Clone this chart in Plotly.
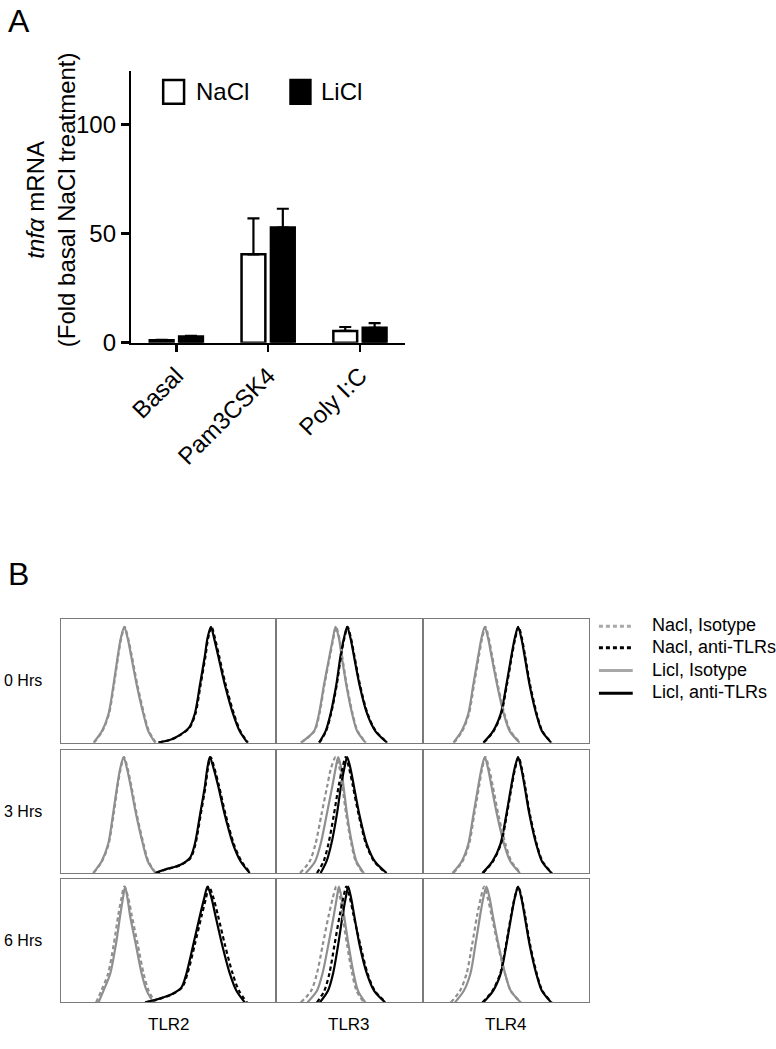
import plotly.graph_objects as go

# ---------------- Panel A data ----------------
CATEGORIES = ["Basal", "Pam3CSK4", "Poly I:C"]
NACL_MEAN = [1.1, 40.5, 5.4]
NACL_ERR = [0.2, 16.5, 1.8]
LICL_MEAN = [2.8, 52.8, 6.8]
LICL_ERR = [0.3, 8.6, 2.2]
Y_TICKS = [0, 50, 100]

# ---------------- Panel B data (histograms, % of max vs. relative fluorescence) ----------------
ROW_LABELS = ["0 Hrs", "3 Hrs", "6 Hrs"]
COL_LABELS = ["TLR2", "TLR3", "TLR4"]
SERIES_NAMES = ["Nacl, Isotype", "Nacl, anti-TLRs", "Licl, Isotype", "Licl, anti-TLRs"]

# heights (% of mode) at which curve positions were read
HIST_LEVELS = [0, 10, 25, 50, 75, 90, 100, 90, 75, 50, 25, 10, 0]
TLR2_ANTI_LEVELS = [0, 3, 7, 13, 25, 50, 75, 90, 100, 90, 75, 50, 25, 10, 0]

# TLR2
tlr2_0h_licl_iso = [15.0, 18.9, 22.0, 24.3, 26.3, 27.7, 29.3, 30.9, 32.5, 35.1, 38.2, 40.5, 43.7]
tlr2_0h_nacl_iso = [15.2, 19.1, 22.2, 24.5, 26.5, 27.9, 29.5, 31.1, 32.8, 35.4, 38.5, 40.8, 44.0]
tlr2_0h_licl_anti = [45.2, 51.4, 55.5, 59.5, 62.2, 64.6, 66.9, 68.1, 69.7, 71.2, 73.1, 76.2, 80.0, 83.1, 86.7]
tlr2_0h_nacl_anti = [45.4, 51.6, 55.7, 59.8, 62.5, 64.9, 67.2, 68.4, 70.0, 71.6, 73.5, 76.6, 80.4, 83.4, 87.0]

tlr2_3h_licl_iso = [14.8, 18.7, 21.8, 24.0, 26.0, 27.4, 29.0, 30.6, 32.3, 34.9, 38.0, 40.3, 43.8]
tlr2_3h_nacl_iso = [15.0, 18.9, 22.0, 24.3, 26.2, 27.6, 29.2, 30.9, 32.6, 35.2, 38.3, 40.6, 44.0]
tlr2_3h_licl_anti = [43.7, 48.3, 55.3, 59.9, 62.2, 64.6, 66.9, 68.0, 69.2, 71.0, 73.1, 76.2, 80.0, 83.6, 87.8]
tlr2_3h_nacl_anti = [44.0, 48.6, 55.6, 60.2, 62.5, 64.9, 67.2, 68.3, 69.6, 71.4, 73.5, 76.6, 80.4, 84.0, 88.1]

tlr2_6h_licl_iso = [17.3, 19.6, 22.8, 25.4, 27.4, 28.7, 29.7, 30.8, 32.0, 34.7, 37.4, 39.8, 42.9]
tlr2_6h_nacl_iso = [16.2, 18.6, 21.8, 24.4, 26.5, 28.0, 29.3, 31.2, 32.8, 35.6, 38.3, 40.7, 43.8]
tlr2_6h_licl_anti = [39.0, 45.2, 51.4, 56.0, 58.3, 61.5, 64.6, 66.6, 68.1, 70.0, 71.8, 74.9, 78.5, 81.6, 85.5]
tlr2_6h_nacl_anti = [39.5, 45.6, 51.6, 56.3, 58.8, 62.2, 65.4, 67.4, 68.8, 70.9, 73.0, 76.2, 79.8, 82.8, 86.5]

# TLR3
tlr3_0h_licl_iso = [17.0, 26.0, 29.4, 32.8, 36.6, 38.9, 40.7, 43.0, 44.8, 48.0, 52.0, 55.4, 61.1]
tlr3_0h_nacl_iso = [17.3, 26.3, 29.7, 33.1, 36.9, 39.2, 41.0, 43.3, 45.1, 48.3, 52.3, 55.7, 61.4]
tlr3_0h_licl_anti = [29.4, 33.9, 37.3, 41.2, 44.1, 46.4, 48.6, 50.9, 53.2, 57.0, 62.2, 67.8, 75.8]
tlr3_0h_nacl_anti = [29.7, 34.2, 37.6, 41.5, 44.4, 46.7, 48.9, 51.2, 53.5, 57.3, 62.5, 68.1, 76.1]

tlr3_3h_licl_iso = [20.4, 26.7, 30.5, 34.6, 38.5, 40.7, 42.5, 44.6, 46.1, 48.6, 52.0, 55.0, 60.0]
tlr3_3h_nacl_iso = [16.5, 23.0, 27.0, 31.0, 35.0, 37.5, 40.7, 43.5, 45.3, 48.0, 51.5, 54.5, 59.5]
tlr3_3h_licl_anti = [30.5, 34.5, 37.8, 41.5, 44.4, 46.6, 48.6, 50.9, 53.2, 57.0, 62.0, 67.5, 75.5]
tlr3_3h_nacl_anti = [28.0, 32.5, 35.8, 39.5, 42.8, 45.3, 47.6, 50.0, 52.5, 56.5, 61.5, 67.0, 75.0]

tlr3_6h_licl_iso = [21.5, 28.0, 31.8, 35.8, 39.5, 41.5, 43.0, 44.8, 46.5, 49.5, 53.0, 56.0, 61.0]
tlr3_6h_nacl_iso = [17.0, 24.0, 28.0, 32.0, 36.0, 38.8, 41.2, 43.8, 45.5, 48.5, 52.0, 55.0, 60.0]
tlr3_6h_licl_anti = [30.0, 35.5, 39.0, 42.5, 45.5, 47.6, 49.3, 51.3, 53.4, 57.0, 62.0, 67.0, 74.5]
tlr3_6h_nacl_anti = [28.0, 33.0, 36.5, 40.0, 43.5, 46.0, 48.0, 50.5, 53.0, 57.5, 62.5, 67.5, 75.0]

# TLR4
tlr4_0h_licl_iso = [18.5, 23.5, 27.5, 30.5, 33.5, 35.4, 37.4, 39.4, 41.4, 44.8, 48.8, 52.4, 58.3]
tlr4_0h_nacl_iso = [18.9, 23.9, 27.9, 30.9, 33.9, 35.8, 37.8, 39.8, 41.8, 45.2, 49.2, 52.8, 58.7]
tlr4_0h_licl_anti = [36.5, 42.4, 47.0, 50.4, 53.4, 55.4, 57.4, 59.4, 61.3, 64.3, 68.3, 71.7, 77.3]
tlr4_0h_nacl_anti = [36.8, 42.7, 47.3, 50.7, 53.7, 55.7, 57.7, 59.7, 61.6, 64.6, 68.6, 72.0, 77.6]

tlr4_3h_licl_iso = [18.0, 23.5, 27.5, 30.5, 33.5, 35.4, 37.4, 39.4, 41.4, 44.8, 49.0, 52.8, 58.5]
tlr4_3h_nacl_iso = [18.5, 24.0, 28.0, 31.0, 34.0, 35.8, 37.8, 40.0, 42.2, 45.6, 49.8, 53.4, 59.0]
tlr4_3h_licl_anti = [36.0, 42.0, 46.8, 50.3, 53.3, 55.3, 57.4, 59.4, 61.3, 64.3, 68.3, 71.8, 77.5]
tlr4_3h_nacl_anti = [36.3, 42.3, 47.1, 50.6, 53.6, 55.6, 57.7, 59.7, 61.6, 64.6, 68.6, 72.1, 77.8]

tlr4_6h_licl_iso = [19.5, 24.8, 28.8, 31.8, 34.6, 36.5, 38.4, 40.3, 42.2, 45.6, 49.6, 53.0, 59.0]
tlr4_6h_nacl_iso = [17.0, 22.5, 26.5, 29.8, 32.8, 35.0, 37.0, 39.2, 41.5, 45.2, 49.5, 53.0, 59.0]
tlr4_6h_licl_anti = [36.5, 42.4, 47.0, 50.4, 53.4, 55.4, 57.4, 59.4, 61.3, 64.3, 68.3, 71.7, 77.3]
tlr4_6h_nacl_anti = [36.0, 42.0, 46.7, 50.2, 53.2, 55.3, 57.5, 59.6, 61.6, 64.6, 68.6, 72.0, 77.6]

# grid[row][col] = (nacl_iso, nacl_anti, licl_iso, licl_anti)
GRID = [
    [(tlr2_0h_nacl_iso, tlr2_0h_nacl_anti, tlr2_0h_licl_iso, tlr2_0h_licl_anti),
     (tlr3_0h_nacl_iso, tlr3_0h_nacl_anti, tlr3_0h_licl_iso, tlr3_0h_licl_anti),
     (tlr4_0h_nacl_iso, tlr4_0h_nacl_anti, tlr4_0h_licl_iso, tlr4_0h_licl_anti)],
    [(tlr2_3h_nacl_iso, tlr2_3h_nacl_anti, tlr2_3h_licl_iso, tlr2_3h_licl_anti),
     (tlr3_3h_nacl_iso, tlr3_3h_nacl_anti, tlr3_3h_licl_iso, tlr3_3h_licl_anti),
     (tlr4_3h_nacl_iso, tlr4_3h_nacl_anti, tlr4_3h_licl_iso, tlr4_3h_licl_anti)],
    [(tlr2_6h_nacl_iso, tlr2_6h_nacl_anti, tlr2_6h_licl_iso, tlr2_6h_licl_anti),
     (tlr3_6h_nacl_iso, tlr3_6h_nacl_anti, tlr3_6h_licl_iso, tlr3_6h_licl_anti),
     (tlr4_6h_nacl_iso, tlr4_6h_nacl_anti, tlr4_6h_licl_iso, tlr4_6h_licl_anti)],
]

# ---------------- Layout geometry ----------------
W, H = 776, 1049
FONT = "Liberation Sans, Arial, Helvetica, sans-serif"
GRAY = "#8f8f8f"
BORDER = "#7a7a7a"


def fx(p):
    return p / W


def fy(p):
    return 1 - p / H


COL_PX = [(57.7, 273.3), (273.3, 420.7), (420.7, 588.0)]
ROW_PX = [(627, 752), (759, 884), (890, 1015)]

fig = go.Figure()

# ---------------- Panel A ----------------
fig.add_trace(go.Bar(
    x=CATEGORIES, y=NACL_MEAN, name="NaCl",
    marker=dict(color="white", line=dict(color="black", width=2.5)),
    error_y=dict(type="data", array=NACL_ERR, arrayminus=[0] * len(NACL_ERR),
                 symmetric=False, color="black", thickness=2.2, width=6),
    xaxis="x", yaxis="y", showlegend=False,
))
fig.add_trace(go.Bar(
    x=CATEGORIES, y=LICL_MEAN, name="LiCl",
    marker=dict(color="black", line=dict(color="black", width=2.5)),
    error_y=dict(type="data", array=LICL_ERR, arrayminus=[0] * len(LICL_ERR),
                 symmetric=False, color="black", thickness=2.2, width=6),
    xaxis="x", yaxis="y", showlegend=False,
))

layout = dict(
    width=W, height=H, margin=dict(l=0, r=0, t=0, b=0),
    paper_bgcolor="white", plot_bgcolor="white",
    font=dict(family=FONT, color="black"),
    barmode="group", bargap=0.36, bargroupgap=0.19,
    showlegend=False,
    xaxis=dict(domain=[fx(128), fx(403)], anchor="y", range=[-0.49, 2.49],
               showline=True, linecolor="black", linewidth=2.5,
               ticks="outside", ticklen=7, tickwidth=2.5, tickcolor="black",
               tickangle=-45, tickfont=dict(size=24, family=FONT),
               showgrid=False, zeroline=False, fixedrange=True),
    yaxis=dict(domain=[fy(347), fy(72)], anchor="x", range=[0, 124.5],
               tickvals=Y_TICKS, showline=True, linecolor="black", linewidth=2.5,
               ticks="outside", ticklen=8, tickwidth=2.5, tickcolor="black",
               tickfont=dict(size=24, family=FONT),
               showgrid=False, zeroline=False, fixedrange=True),
)

# ---------------- Panel B ----------------
styles = [
    dict(color=GRAY, dash="4px,3px"),   # Nacl, Isotype
    dict(color="black", dash="4px,3px"),  # Nacl, anti-TLRs
    dict(color=GRAY, dash="solid"),     # Licl, Isotype
    dict(color="black", dash="solid"),  # Licl, anti-TLRs
]
draw_order = [2, 3, 0, 1]

for r in range(3):
    for c in range(3):
        k = 2 + r * 3 + c
        xa, ya = f"x{k}", f"y{k}"
        curves = GRID[r][c]
        for i in draw_order:
            xs = curves[i]
            levels = TLR2_ANTI_LEVELS if len(xs) == len(TLR2_ANTI_LEVELS) else HIST_LEVELS
            fig.add_trace(go.Scatter(
                x=xs, y=levels, mode="lines", name=SERIES_NAMES[i],
                line=dict(color=styles[i]["color"], dash=styles[i]["dash"],
                          width=2.2, shape="spline", smoothing=0.8),
                xaxis=xa, yaxis=ya, showlegend=False, hoverinfo="skip",
            ))
        layout[f"xaxis{k}"] = dict(
            domain=[fx(COL_PX[c][0]), fx(COL_PX[c][1])], anchor=ya, range=[0, 100],
            showline=True, mirror=True, linecolor=BORDER, linewidth=1,
            showticklabels=False, ticks="", showgrid=False, zeroline=False, fixedrange=True)
        layout[f"yaxis{k}"] = dict(
            domain=[fy(ROW_PX[r][1]), fy(ROW_PX[r][0])], anchor=xa, range=[0, 106.5],
            showline=True, mirror=True, linecolor=BORDER, linewidth=1,
            showticklabels=False, ticks="", showgrid=False, zeroline=False, fixedrange=True)

fig.update_layout(**layout)

annotations = []
shapes = []

# Panel letters
annotations.append(dict(text="A", x=fx(2), y=fy(1), xref="paper", yref="paper",
                        xanchor="left", yanchor="top", showarrow=False,
                        font=dict(size=32, family=FONT)))
annotations.append(dict(text="B", x=fx(2), y=fy(561), xref="paper", yref="paper",
                        xanchor="left", yanchor="top", showarrow=False,
                        font=dict(size=32, family=FONT)))

# Panel A y title
annotations.append(dict(text="<i>tnfα</i> mRNA<br>(Fold basal NaCl treatment)",
                        x=fx(48), y=fy(202), xref="paper", yref="paper",
                        xanchor="center", yanchor="middle", textangle=-90,
                        showarrow=False, font=dict(size=24, family=FONT)))

# Panel A legend
shapes.append(dict(type="rect", xref="paper", yref="paper",
                   x0=fx(160), x1=fx(181), y0=fy(105), y1=fy(81),
                   fillcolor="white", line=dict(color="black", width=2.5)))
shapes.append(dict(type="rect", xref="paper", yref="paper",
                   x0=fx(288), x1=fx(308), y0=fy(105), y1=fy(81),
                   fillcolor="black", line=dict(color="black", width=2.5)))
annotations.append(dict(text="NaCl", x=fx(191), y=fy(93), xref="paper", yref="paper",
                        xanchor="left", yanchor="middle", showarrow=False,
                        font=dict(size=24, family=FONT)))
annotations.append(dict(text="LiCl", x=fx(317), y=fy(93), xref="paper", yref="paper",
                        xanchor="left", yanchor="middle", showarrow=False,
                        font=dict(size=24, family=FONT)))

# Panel B row labels
for r, lab in enumerate(ROW_LABELS):
    yc = (ROW_PX[r][0] + ROW_PX[r][1]) / 2
    annotations.append(dict(text=lab, x=fx(-2), y=fy(yc), xref="paper", yref="paper",
                            xanchor="left", yanchor="middle", showarrow=False,
                            font=dict(size=16, family=FONT)))
# Panel B column labels
for c, lab in enumerate(COL_LABELS):
    xc = (COL_PX[c][0] + COL_PX[c][1]) / 2
    annotations.append(dict(text=lab, x=fx(xc), y=fy(1037), xref="paper", yref="paper",
                            xanchor="center", yanchor="middle", showarrow=False,
                            font=dict(size=17, family=FONT)))

# Panel B legend
leg_y = [634, 656, 679, 702]
leg_colors = ["#a8a8a8", "black", "#a8a8a8", "black"]
leg_dash = ["4px,3px", "4px,3px", "solid", "solid"]
for i, name in enumerate(SERIES_NAMES):
    shapes.append(dict(type="line", xref="paper", yref="paper",
                       x0=fx(598), x1=fx(632), y0=fy(leg_y[i]), y1=fy(leg_y[i]),
                       line=dict(color=leg_colors[i], width=3, dash=leg_dash[i])))
    annotations.append(dict(text=name, x=fx(649), y=fy(leg_y[i] - 1), xref="paper", yref="paper",
                            xanchor="left", yanchor="middle", showarrow=False,
                            font=dict(size=18, family=FONT)))

fig.update_layout(annotations=annotations, shapes=shapes)

fig.write_html(
    "out.html",
    config={"displayModeBar": False, "staticPlot": True},
    post_script="document.body.style.margin='0';document.body.style.padding='0';"
                "document.body.style.overflow='hidden';",
)
